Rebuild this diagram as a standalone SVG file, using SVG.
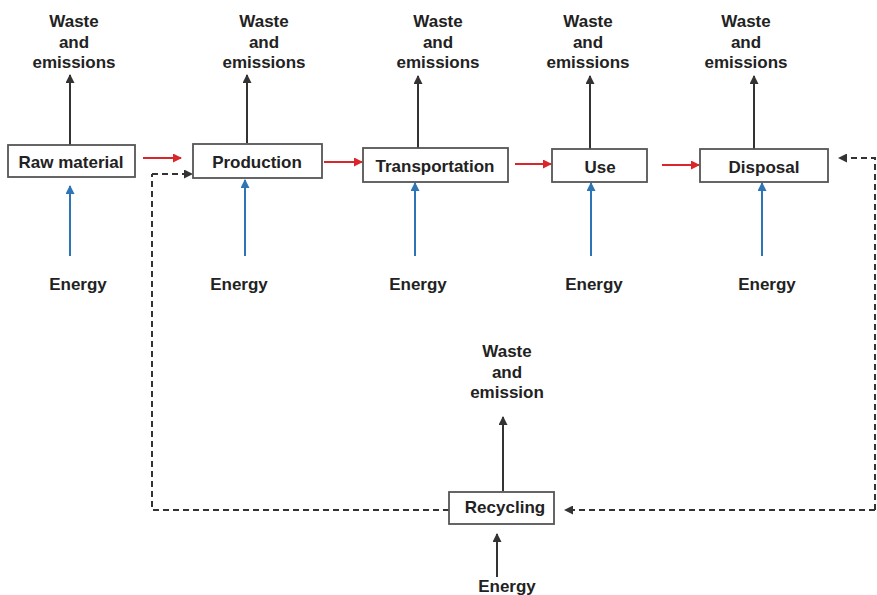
<svg xmlns="http://www.w3.org/2000/svg" width="877" height="595" viewBox="0 0 877 595">
<style>
text{font-family:"Liberation Sans",Arial,sans-serif;font-weight:bold;font-size:17px;fill:#222;text-anchor:middle}
.box{fill:#fff;stroke:#555;stroke-width:1.8}
.red{stroke:#d9262b;stroke-width:2;fill:none;marker-end:url(#ar)}
.blk{stroke:#333;stroke-width:2;fill:none;marker-end:url(#ak)}
.blu{stroke:#2e75b6;stroke-width:2;fill:none;marker-end:url(#ab)}
.dash{stroke:#333;stroke-width:2;fill:none;stroke-dasharray:6 4}
.dasha{stroke:#333;stroke-width:2;fill:none;stroke-dasharray:6 4;marker-end:url(#ak)}
</style>
<defs>
<marker id="ar" markerWidth="9" markerHeight="9" refX="8" refY="4.5" orient="auto" markerUnits="userSpaceOnUse"><path d="M0,0 L9,4.5 L0,9 z" fill="#d9262b"/></marker>
<marker id="ak" markerWidth="9" markerHeight="9" refX="8" refY="4.5" orient="auto" markerUnits="userSpaceOnUse"><path d="M0,0 L9,4.5 L0,9 z" fill="#333"/></marker>
<marker id="ab" markerWidth="9" markerHeight="9" refX="8" refY="4.5" orient="auto" markerUnits="userSpaceOnUse"><path d="M0,0 L9,4.5 L0,9 z" fill="#2e75b6"/></marker>
</defs>
<rect width="877" height="595" fill="#fff"/>
<g id="connectors">
<line class="red" x1="143" y1="158" x2="181" y2="158"/>
<line class="red" x1="324" y1="162" x2="362" y2="162"/>
<line class="red" x1="515" y1="164" x2="551" y2="164"/>
<line class="red" x1="662" y1="165" x2="699" y2="165"/>
<line class="blk" x1="70" y1="145" x2="70" y2="75"/>
<line class="blk" x1="247" y1="143" x2="247" y2="75"/>
<line class="blk" x1="418" y1="148" x2="418" y2="76"/>
<line class="blk" x1="590" y1="149" x2="590" y2="76"/>
<line class="blk" x1="754" y1="149" x2="754" y2="76"/>
<line class="blk" x1="503" y1="491" x2="503" y2="417"/>
<line class="blk" x1="497" y1="577" x2="497" y2="534"/>
<line class="blu" x1="70" y1="256" x2="70" y2="186"/>
<line class="blu" x1="245" y1="256" x2="245" y2="180"/>
<line class="blu" x1="415" y1="256" x2="415" y2="183"/>
<line class="blu" x1="591" y1="256" x2="591" y2="183"/>
<line class="blu" x1="762" y1="256" x2="762" y2="183"/>
<path class="dash" d="M449,510 H152 V174"/>
<line class="dasha" x1="152" y1="174" x2="192" y2="174"/>
<path class="dasha" d="M875,510 H565"/>
<path class="dasha" d="M875,510 V158 H839"/>
</g>
<g id="raw"><rect class="box" x="8" y="145" width="127" height="32"/><text x="71" y="168">Raw material</text></g>
<g id="production"><rect class="box" x="193" y="144" width="129" height="34"/><text x="257" y="168">Production</text></g>
<g id="transportation"><rect class="box" x="363" y="148" width="145" height="34"/><text x="435" y="172">Transportation</text></g>
<g id="use"><rect class="box" x="552" y="149" width="95" height="33"/><text x="600" y="173">Use</text></g>
<g id="disposal"><rect class="box" x="700" y="149" width="128" height="33"/><text x="764" y="173">Disposal</text></g>
<g id="recycling"><rect class="box" x="449" y="492" width="105" height="32"/><text x="505" y="513">Recycling</text></g>
<g id="waste1"><text x="74" y="27">Waste</text><text x="74" y="48">and</text><text x="74" y="68">emissions</text></g>
<g id="waste2"><text x="264" y="27">Waste</text><text x="264" y="48">and</text><text x="264" y="68">emissions</text></g>
<g id="waste3"><text x="438" y="27">Waste</text><text x="438" y="48">and</text><text x="438" y="68">emissions</text></g>
<g id="waste4"><text x="588" y="27">Waste</text><text x="588" y="48">and</text><text x="588" y="68">emissions</text></g>
<g id="waste5"><text x="746" y="27">Waste</text><text x="746" y="48">and</text><text x="746" y="68">emissions</text></g>
<g id="waste6"><text x="507" y="357">Waste</text><text x="507" y="378">and</text><text x="507" y="398">emission</text></g>
<g id="energy1"><text x="78" y="290">Energy</text></g>
<g id="energy2"><text x="239" y="290">Energy</text></g>
<g id="energy3"><text x="418" y="290">Energy</text></g>
<g id="energy4"><text x="594" y="290">Energy</text></g>
<g id="energy5"><text x="767" y="290">Energy</text></g>
<g id="energy6"><text x="507" y="592">Energy</text></g>
</svg>
